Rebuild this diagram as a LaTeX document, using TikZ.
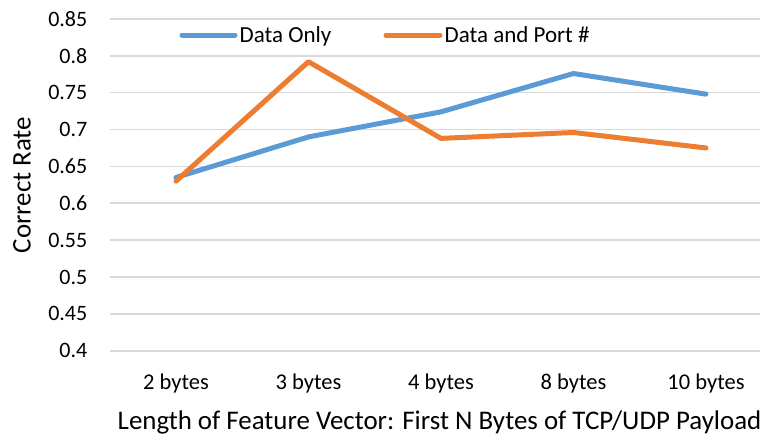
\documentclass[tikz,border=0pt]{standalone}
\usepackage{fontspec}
\setmainfont{Carlito}
\definecolor{serieA}{HTML}{5B9BD5}
\definecolor{serieB}{HTML}{ED7D31}
\definecolor{gridgray}{HTML}{D9D9D9}
\begin{document}
\begin{tikzpicture}[x=1pt,y=-1pt,
  gridline/.style={draw=gridgray,line width=1.6pt},
  ticklabel/.style={font=\fontsize{22}{24}\selectfont,inner sep=0pt},
  catlabel/.style={font=\fontsize{22.5}{25}\selectfont,inner sep=0pt,anchor=base},
  titlelabel/.style={font=\fontsize{26.9}{29}\selectfont,inner sep=0pt},
  legendtext/.style={font=\fontsize{23}{25}\selectfont,inner sep=0pt,anchor=base west},
  series/.style={line width=5pt,line cap=round,line join=round},
  declare function={yv(\v)=350.7-(\v-0.4)*737.2;}]
\useasboundingbox (0,0) rectangle (760,437);
\clip (0,0) rectangle (760,437);
\fill[white] (0,0) rectangle (760,437);

% horizontal grid and value labels
\foreach \v/\t in {0.4/0.4,0.45/0.45,0.5/0.5,0.55/0.55,0.6/0.6,0.65/0.65,0.7/0.7,0.75/0.75,0.8/0.8,0.85/0.85}{
  \draw[gridline] (110,{yv(\v)}) -- (772,{yv(\v)});
  \node[ticklabel,anchor=east] at (87.5,{yv(\v)}) {\t};
}

% category labels
\foreach \x/\t [count=\i] in {176/2 bytes,308.5/3 bytes,441/4 bytes,573.5/8 bytes,706/10 bytes}{
  \node[catlabel] (cat\i) at (\x,389) {\t};
}

% axis titles
\node[titlelabel,anchor=base] (xtitle) at (439.5,429) {Length of Feature Vector: First N Bytes of TCP/UDP Payload};
\node[titlelabel,rotate=90] (ytitle) at (22,185) {Correct Rate};

% data series
\draw[series,serieA] (176,{yv(0.635)}) -- (308.5,{yv(0.690)}) -- (441,{yv(0.724)}) -- (573.5,{yv(0.776)}) -- (706,{yv(0.748)});
\draw[series,serieB] (176,{yv(0.630)}) -- (308.5,{yv(0.792)}) -- (441,{yv(0.688)}) -- (573.5,{yv(0.696)}) -- (706,{yv(0.675)});

% legend
\coordinate (la0) at (182,35);
\coordinate (la1) at (235,35);
\draw[series,serieA] (la0) -- (la1);
\node[legendtext] (lta) at (239.5,42) {Data Only};
\coordinate (lb0) at (386,35);
\coordinate (lb1) at (440,35);
\draw[series,serieB] (lb0) -- (lb1);
\node[legendtext] (ltb) at (444.5,42) {Data and Port \#};
\end{tikzpicture}
\end{document}
